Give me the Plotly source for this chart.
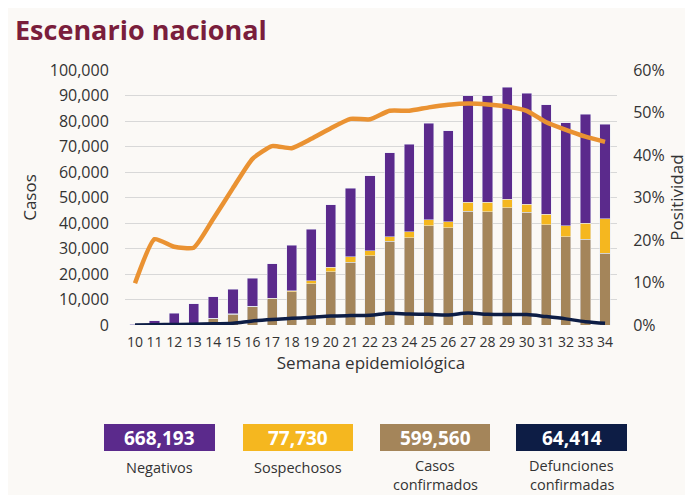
import plotly.graph_objects as go

# semanas epidemiológicas
semanas = list(range(10, 35))

# casos por semana (segmentos apilados)
confirmados = [50, 300, 300, 500, 2600, 4300, 7300, 10300, 13100, 16100, 20900, 24600, 27200,
               32900, 34200, 39000, 38200, 44700, 44400, 45900, 44200, 39300, 34600, 33700, 28100]
sospechosos = [10, 20, 30, 50, 100, 100, 150, 200, 400, 1200, 1700, 2200, 2000,
               1700, 2300, 2300, 2300, 3400, 3700, 3400, 3100, 4200, 4400, 6300, 13500]
negativos = [140, 1380, 4270, 7850, 8300, 9600, 10850, 13600, 17700, 20200, 24500, 26800, 29400,
             32900, 34300, 37800, 35600, 41800, 41800, 43900, 43500, 42900, 40300, 42700, 37100]
defunciones = [0, 100, 200, 300, 500, 700, 1600, 2200, 2600, 3000, 3500, 3700, 3800,
               4600, 4300, 4200, 3900, 4700, 4200, 4100, 4100, 3300, 2400, 1300, 700]
positividad = [0.098, 0.202, 0.184, 0.182, 0.25, 0.322, 0.391, 0.421, 0.416, 0.438, 0.463, 0.485, 0.484,
               0.504, 0.504, 0.512, 0.518, 0.521, 0.519, 0.514, 0.504, 0.477, 0.459, 0.443, 0.431]

# totales para los recuadros
totales = ['668,193', '77,730', '599,560', '64,414']
etiquetas = [['Negativos'], ['Sospechosos'], ['Casos', 'confirmados'], ['Defunciones', 'confirmadas']]

MORADO = '#5b2a8c'
AMARILLO = '#f5b71f'
CAFE = '#a4855a'
AZUL = '#0d1d45'
NARANJA = '#ea9232'
FUENTE = 'Open Sans'

fig = go.Figure()
fig.add_trace(go.Bar(x=semanas, y=confirmados, marker_color=CAFE, name='Confirmados'))
fig.add_trace(go.Bar(x=semanas, y=sospechosos, marker_color=AMARILLO, name='Sospechosos'))
fig.add_trace(go.Bar(x=semanas, y=negativos, marker_color=MORADO, name='Negativos'))
fig.add_trace(go.Scatter(x=semanas, y=defunciones, mode='lines', line=dict(color=AZUL, width=3.5, shape='spline'),
                         name='Defunciones'))
fig.add_trace(go.Scatter(x=semanas, y=positividad, mode='lines', yaxis='y2',
                         line=dict(color=NARANJA, width=4.5, shape='spline', smoothing=0.5),
                         name='Positividad'))

fig.update_layout(
    barmode='stack',
    bargap=0.48,
    width=685, height=487,
    margin=dict(l=117, r=76, t=62, b=170),
    paper_bgcolor='#fbf9f6',
    plot_bgcolor='rgba(0,0,0,0)',
    showlegend=False,
    font=dict(family=FUENTE, color='#333333', size=14),
    xaxis=dict(range=[9.49, 34.61], tickmode='array', tickvals=semanas, ticktext=[str(s) for s in semanas],
               showgrid=False, zeroline=False, ticks='outside', ticklen=4, tickcolor='rgba(0,0,0,0)',
               title=dict(text='Semana epidemiológica', font=dict(size=17), standoff=7),
               tickfont=dict(size=14)),
    yaxis=dict(range=[0, 100000], dtick=10000, tickformat=',', gridcolor='#d8d8d8', gridwidth=1,
               zeroline=False, ticks='outside', ticklen=12, tickcolor='rgba(0,0,0,0)',
               title=dict(text='Casos', font=dict(size=17), standoff=8),
               tickfont=dict(size=16)),
    yaxis2=dict(range=[0, 0.6], dtick=0.1, tickformat='.0%', overlaying='y', side='right', showgrid=False,
                zeroline=False, ticks='outside', ticklen=12, tickcolor='rgba(0,0,0,0)',
                title=dict(text='Positividad', font=dict(size=17), standoff=5),
                tickfont=dict(size=16)),
)

# título
fig.add_annotation(text='<b>Escenario nacional</b>', xref='paper', yref='paper', x=-0.228, y=(325 - 8.5) / 255,
                   xanchor='left', yanchor='top', showarrow=False,
                   font=dict(size=27, color='#7a1e3c', family=FUENTE))

# recuadros de totales
colores = [MORADO, AMARILLO, CAFE, AZUL]
cajas = [(104, 215), (243, 353), (380, 490), (516, 627)]
for (x0, x1), col, num, lab in zip(cajas, colores, totales, etiquetas):
    px0 = (x0 - 125) / 492
    px1 = (x1 - 125) / 492
    fig.add_shape(type='rect', xref='paper', yref='paper', x0=px0, x1=px1,
                  y0=(325 - 451) / 255, y1=(325 - 424) / 255,
                  fillcolor=col, line=dict(width=0), layer='below')
    fig.add_annotation(text='<b>' + num + '</b>', xref='paper', yref='paper', x=(px0 + px1) / 2,
                       y=(325 - 437.5) / 255, xanchor='center', yanchor='middle', showarrow=False,
                       font=dict(size=19, color='white'))
    if len(lab) == 1:
        filas = [467]
    else:
        filas = [465, 484]
    for texto, fy in zip(lab, filas):
        fig.add_annotation(text=texto, xref='paper', yref='paper', x=(px0 + px1) / 2,
                           y=(325 - fy) / 255, xanchor='center', yanchor='middle', showarrow=False,
                           font=dict(size=14.5, color='#333333'), borderpad=0)

fig.write_html('out.html')
